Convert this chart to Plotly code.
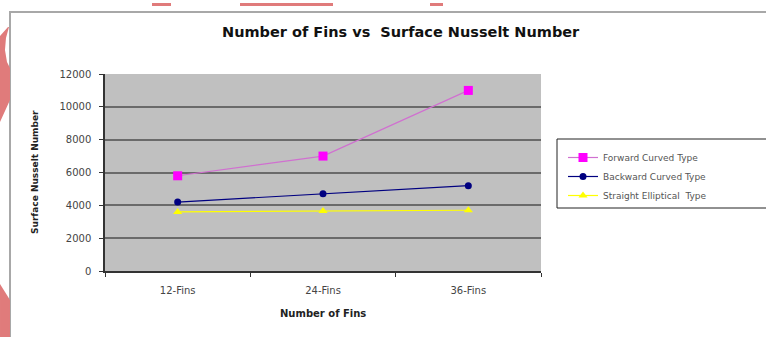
import plotly.graph_objects as go

categories = ["12-Fins", "24-Fins", "36-Fins"]
forward_curved = [5800, 7000, 11000]
backward_curved = [4200, 4700, 5200]
straight_elliptical = [3600, 3650, 3700]
y_ticks = [0, 2000, 4000, 6000, 8000, 10000, 12000]
y_tick_labels = ["0", "2000", "4000", "6000", "8000", "10000", "12000"]

W, H = 766, 337
L, R, T, B = 105, 541, 74, 271  # plot area in px


def px(x):
    return (x - L) / (R - L)


def py(y):
    return (B - y) / (B - T)


fig = go.Figure()
fig.add_trace(go.Scatter(
    x=categories, y=forward_curved, name="Forward Curved Type",
    mode="lines+markers", line=dict(color="#d070d0", width=1.2),
    marker=dict(symbol="square", size=9, color="#ff00ff")))
fig.add_trace(go.Scatter(
    x=categories, y=backward_curved, name="Backward Curved Type",
    mode="lines+markers", line=dict(color="#000080", width=1.2),
    marker=dict(symbol="circle", size=7, color="#000080")))
fig.add_trace(go.Scatter(
    x=categories, y=straight_elliptical, name="Straight Elliptical  Type",
    mode="lines+markers", line=dict(color="#ffff00", width=1.2),
    marker=dict(symbol="triangle-up", size=8, color="#ffff00")))

font_fam = "DejaVu Sans, Verdana, sans-serif"
shapes = []
# outer frame
shapes.append(dict(type="rect", xref="paper", yref="paper", x0=px(10), x1=px(800),
                   y0=py(345), y1=py(12), line=dict(color="#a8a8a8", width=2), layer="below"))
# legend box
shapes.append(dict(type="rect", xref="paper", yref="paper", x0=px(557), x1=px(790),
                   y0=py(208), y1=py(139), line=dict(color="#222222", width=1),
                   fillcolor="white", layer="below"))
# decorative red slide remnants
red = "#e07b7b"


def path(points):
    return "M " + " L ".join(f"{px(a):.4f},{py(b):.4f}" for a, b in points) + " Z"


shapes.append(dict(type="path", xref="paper", yref="paper",
                   path=path([(0, 36), (8, 27), (9, 27), (6, 38), (5, 50), (7, 62), (10, 68),
                              (10, 100), (0, 122)]),
                   fillcolor=red, line=dict(width=0)))
shapes.append(dict(type="path", xref="paper", yref="paper",
                   path=path([(0, 284), (10, 300), (10, 337), (0, 337)]),
                   fillcolor=red, line=dict(width=0)))
for a, b in [(152, 171), (240, 333), (430, 443)]:
    shapes.append(dict(type="rect", xref="paper", yref="paper", x0=px(a), x1=px(b),
                       y0=py(6), y1=py(3), fillcolor=red, line=dict(width=0)))

annotations = [
    dict(text="<b>Number of Fins vs  Surface Nusselt Number</b>", xref="paper", yref="paper",
         x=px(401), y=py(32), xanchor="center", yanchor="middle", showarrow=False,
         font=dict(size=14.5, color="#111111", family=font_fam)),
    dict(text="<b>Surface Nusselt Number</b>", xref="paper", yref="paper", textangle=-90,
         x=px(35), y=py(172), xanchor="center", yanchor="middle", showarrow=False,
         font=dict(size=9, color="#222222", family=font_fam)),
    dict(text="<b>Number of Fins</b>", xref="paper", yref="paper",
         x=px(323), y=py(313), xanchor="center", yanchor="middle", showarrow=False,
         font=dict(size=10, color="#222222", family=font_fam)),
]

fig.update_layout(
    width=W, height=H,
    margin=dict(l=L, r=W - R, t=T, b=H - B, pad=0),
    paper_bgcolor="white", plot_bgcolor="#c0c0c0",
    font=dict(family=font_fam, size=10, color="#333333"),
    showlegend=True,
    legend=dict(x=px(563), y=py(143), xanchor="left", yanchor="top",
                bgcolor="rgba(0,0,0,0)", borderwidth=0,
                font=dict(size=9, color="#555555", family=font_fam),
                tracegroupgap=0, itemwidth=30),
    shapes=shapes, annotations=annotations,
    xaxis=dict(type="category", range=[-0.5, 2.5], showgrid=False, showline=True,
               linecolor="#333333", linewidth=1.5, ticks="outside", tickson="boundaries",
               ticklen=4, tickcolor="#333333", tickfont=dict(size=10, color="#444444"),
               ticklabelstandoff=9, zeroline=False, fixedrange=True),
    yaxis=dict(range=[0, 12000], tickvals=y_ticks, ticktext=y_tick_labels, showgrid=True,
               gridcolor="#6a6a6a", gridwidth=2, showline=True, linecolor="#333333",
               linewidth=1.5, ticks="outside", ticklen=4, tickcolor="#333333",
               tickfont=dict(size=10, color="#444444"), ticklabelstandoff=6,
               zeroline=False, fixedrange=True),
)

fig.write_html("out.html", config={"displayModeBar": False},
               post_script="document.body.style.margin='0';document.body.style.overflow='hidden';")
